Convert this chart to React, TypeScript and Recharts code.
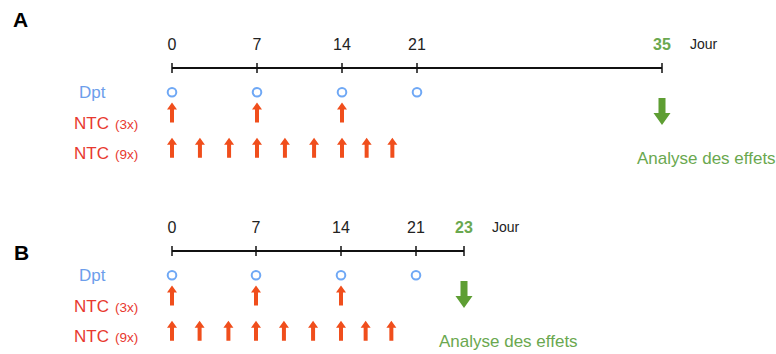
import React from "react";
import { ScatterChart, Scatter, XAxis, YAxis } from "recharts";

// row labels (name + dose count)
const rowNames = ["Dpt", "NTC", "NTC"];
const rowDoses = ["", "(3x)", "(9x)"];
const rowIds = [1, 2, 3];

// day ticks per panel
const tickDaysA = [0, 7, 14, 21, 35];
const tickDaysB = [0, 7, 14, 21, 23];

// treatment days
const dptDays = [0, 7, 14, 21];
const ntc3Days = [0, 7, 14];
const ntc9Days = [0, 2.3, 4.7, 7, 9.3, 11.7, 14, 16.3, 18.7];

const endDayA = 35;
const endDayB = 23;
const unitLabel = "Jour";
const analysisLabel = "Analyse des effets";

const FONT = "'Liberation Sans', Arial, sans-serif";
const BLUE = "#6d9eeb";
const RED = "#e8392f";
const ORANGE = "#f04e1c";
const GREEN = "#6aa84f";
const ARROW_GREEN = "#5e9e33";

// schematic (non-uniform) time axis: knot days drawn at these pixel positions
function piecewiseScale(knots: number[], pos: number[]): any {
  let dom = [knots[0], knots[knots.length - 1]];
  let rng = [0, 1];
  const frac = pos.map((p) => (p - pos[0]) / (pos[pos.length - 1] - pos[0]));
  const s: any = (v: number) => {
    let i = 0;
    while (i < knots.length - 2 && v > knots[i + 1]) i++;
    const t = (v - knots[i]) / (knots[i + 1] - knots[i]);
    const f = frac[i] + t * (frac[i + 1] - frac[i]);
    return rng[0] + f * (rng[1] - rng[0]);
  };
  s.domain = (d?: number[]) => {
    if (!d) return dom.slice();
    dom = d.slice();
    return s;
  };
  s.range = (r?: number[]) => {
    if (!r) return rng.slice();
    rng = r.slice();
    return s;
  };
  s.copy = () => piecewiseScale(knots, pos).domain(dom).range(rng);
  s.ticks = () => knots.slice();
  return s;
}

function UpArrow({ cx, cy, off }: any) {
  const c = cy + off;
  const d = `M${cx},${c - 10} L${cx + 5},${c - 3} L${cx + 2},${c - 3} L${cx + 2},${c + 10} L${cx - 2},${c + 10} L${cx - 2},${c - 3} L${cx - 5},${c - 3} Z`;
  return <path d={d} fill={ORANGE} />;
}

function DownArrow({ cx, cy }: any) {
  const top = cy - 24.5;
  const d = `M${cx - 3.5},${top} h7 v15 h5 l-8.5,12 l-8.5,-12 h5 Z`;
  return <path d={d} fill={ARROW_GREEN} />;
}

interface PanelProps {
  ticks: number[];
  endDay: number;
  knotPx: number[];
  axisTop: number;
}

function Panel({ ticks, endDay, knotPx, axisTop }: PanelProps) {
  const scale = piecewiseScale(ticks, knotPx);
  const right = 776 - knotPx[knotPx.length - 1];

  const dayTick = (props: any) => {
    const { x, payload } = props;
    const end = payload.value === endDay;
    return (
      <g>
        <line x1={x} x2={x} y1={axisTop - 5} y2={axisTop + 5} stroke="#111" strokeWidth={1.5} />
        <text
          x={x}
          y={axisTop - 18.5}
          textAnchor="middle"
          fontSize={16}
          fontFamily={FONT}
          fontWeight={end ? 700 : 400}
          fill={end ? GREEN : "#222"}
        >
          {payload.value}
        </text>
        {end && (
          <text x={x + 28} y={axisTop - 19} fontSize={14} fontFamily={FONT} fill="#222">
            {unitLabel}
          </text>
        )}
      </g>
    );
  };

  const rowTick = (props: any) => {
    const { y, payload } = props;
    const i = rowIds.indexOf(payload.value);
    if (i < 0) return <g />;
    const isDpt = rowDoses[i] === "";
    return (
      <text x={isDpt ? 79 : 74} y={y + 6} fontFamily={FONT} fontSize={17} fill={isDpt ? BLUE : RED}>
        <tspan>{rowNames[i]}</tspan>
        {!isDpt && (
          <tspan dx={6} fontSize={13.5}>
            {rowDoses[i]}
          </tspan>
        )}
      </text>
    );
  };

  return (
    <ScatterChart
      width={776}
      height={177}
      margin={{ top: axisTop - 30, right, bottom: 177 - axisTop - 100, left: 0 }}
    >
      <XAxis
        xAxisId="d"
        type="number"
        dataKey="day"
        orientation="top"
        height={30}
        scale={scale}
        domain={[0, endDay]}
        ticks={ticks}
        interval={0}
        tickLine={false}
        tickSize={0}
        tickMargin={0}
        axisLine={{ stroke: "#111", strokeWidth: 2 }}
        tick={dayTick}
      />
      <YAxis
        yAxisId="r"
        type="number"
        dataKey="row"
        reversed
        width={172}
        domain={[0.2, 3.5]}
        ticks={rowIds}
        interval={0}
        axisLine={false}
        tickLine={false}
        tick={rowTick}
      />
      <Scatter
        xAxisId="d"
        yAxisId="r"
        data={dptDays.map((day) => ({ day, row: 1 }))}
        isAnimationActive={false}
        shape={(p: any) => <circle cx={p.cx} cy={p.cy} r={4.3} fill="none" stroke="#6fa8f5" strokeWidth={2} />}
      />
      <Scatter
        xAxisId="d"
        yAxisId="r"
        data={ntc3Days.map((day) => ({ day, row: 2 }))}
        isAnimationActive={false}
        shape={(p: any) => <UpArrow cx={p.cx} cy={p.cy} off={-10} />}
      />
      <Scatter
        xAxisId="d"
        yAxisId="r"
        data={ntc9Days.map((day) => ({ day, row: 3 }))}
        isAnimationActive={false}
        shape={(p: any) => <UpArrow cx={p.cx} cy={p.cy} off={-5} />}
      />
      <Scatter
        xAxisId="d"
        yAxisId="r"
        data={[{ day: endDay, row: 2 }]}
        isAnimationActive={false}
        shape={(p: any) => <DownArrow cx={p.cx} cy={p.cy} />}
      />
      <Scatter
        xAxisId="d"
        yAxisId="r"
        data={[{ day: endDay, row: 3 }]}
        isAnimationActive={false}
        shape={(p: any) => (
          <text x={p.cx - 25} y={p.cy + 11} fontFamily={FONT} fontSize={17} fill={GREEN}>
            {analysisLabel}
          </text>
        )}
      />
    </ScatterChart>
  );
}

export default function App() {
  return (
    <div style={{ position: "absolute", left: 0, top: 0, width: 776, height: 354, background: "#fff" }}>
      <Panel ticks={tickDaysA} endDay={endDayA} knotPx={[172, 257, 342, 417, 662]} axisTop={68} />
      <Panel ticks={tickDaysB} endDay={endDayB} knotPx={[172, 256, 341, 416, 464]} axisTop={74} />
      <svg width={776} height={354} style={{ position: "absolute", left: 0, top: 0, pointerEvents: "none" }}>
        <text x={13} y={27} fontFamily={FONT} fontWeight={700} fontSize={21} fill="#000">
          A
        </text>
        <text x={14} y={260} fontFamily={FONT} fontWeight={700} fontSize={21} fill="#000">
          B
        </text>
      </svg>
    </div>
  );
}
